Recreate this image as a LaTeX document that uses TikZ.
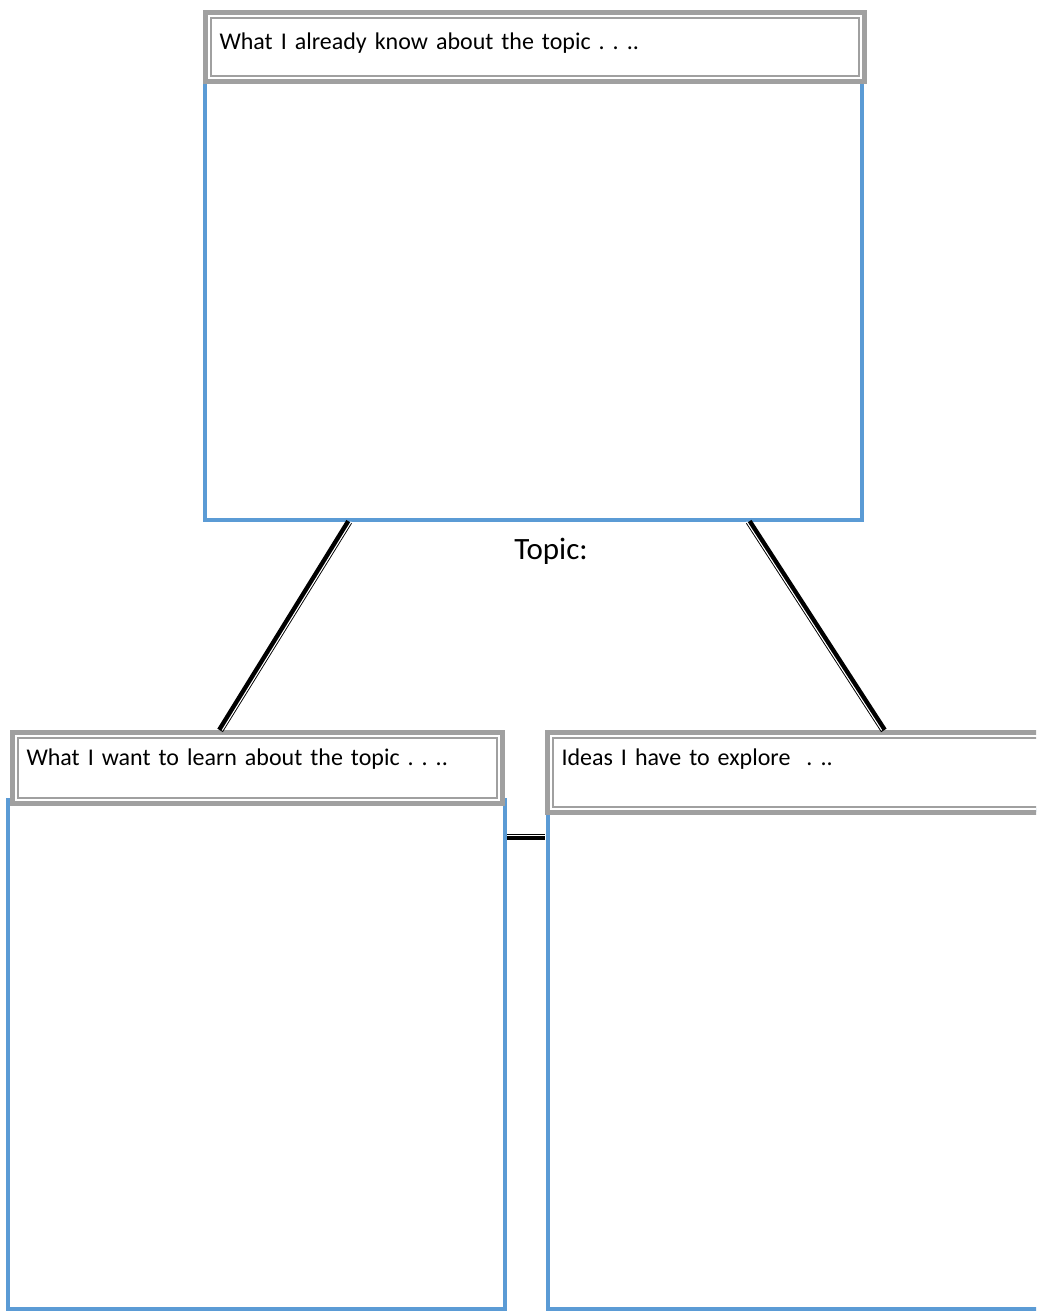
\documentclass[tikz,border=0pt]{standalone}
\usepackage{fontspec}
\setmainfont{Carlito}
\usetikzlibrary{calc}
\frenchspacing

\definecolor{boxblue}{RGB}{91,155,213}
\definecolor{hdrgray}{RGB}{160,160,160}

\begin{document}
\begin{tikzpicture}
            [x=1pt,y=-1pt,
             bodybox/.style={draw=boxblue,line width=4pt,inner sep=0pt,outer sep=0pt,anchor=north west},
             hdr/.style={draw=hdrgray,fill=white,line width=5pt,inner ysep=0pt,inner xsep=14pt,outer sep=0pt,
                         anchor=north west,align=left,font=\fontsize{24}{29}\selectfont},
             hdrline/.style={draw=hdrgray,line width=1.5pt},
             link/.style={draw=black,line width=6.5pt,shorten <=2pt,shorten >=2.5pt,
                          postaction={draw=white,line width=1.1pt,transform canvas={shift={#1}}}}]
            \clip (0,0) rectangle (1036,1313);
            \fill[white] (0,0) rectangle (1036,1313);
            % the three boxes
            \node[bodybox,minimum width=657pt,minimum height=440pt] (knowbox) at (205,80) {};
            \node[bodybox,minimum width=497pt,minimum height=509pt] (learnbox) at (8,800) {};
            \node[bodybox,minimum width=507.5pt,minimum height=499pt] (explorebox) at (547.5,810) {};
            % headings
            \node[hdr,text width=631pt,text height=37.5pt,text depth=31.5pt] (know) at (205.5,12.5)
                {What I already know about the topic . . ..};
            \node[hdr,text width=462pt,text height=32.5pt,text depth=38.5pt] (learn) at (12.5,732.5)
                {What I want to learn about the topic . . ..};
            \node[hdr,text width=474.5pt,text height=32.5pt,text depth=47.5pt] (explore) at (547.5,732.5)
                {Ideas I have to explore\ \ . ..};
            \foreach \h in {know,learn,explore}
                \draw[hdrline] ([shift={(5.5,5.5)}]\h.north west) rectangle ([shift={(-5.5,-5.5)}]\h.south east);
            \node[font=\fontsize{31}{36}\selectfont,anchor=base] (topic) at (551,559) {Topic:};
            % connectors
            \draw[link={(2.1pt,0pt)}] ($(knowbox.south west)!.221!(knowbox.south east)$)
                -- ($(learn.north west)!.421!(learn.north east)$);
            \draw[link={(-2.1pt,0pt)}] ($(knowbox.south west)!.826!(knowbox.south east)$)
                -- ($(explore.north west)!.672!(explore.north east)$);
            \coordinate (mid) at ($(learnbox.north east)+(0,37)$);
            \draw[link={(0pt,1.8pt)}] (mid) -- (mid -| explorebox.west);
        \end{tikzpicture}
\end{document}
